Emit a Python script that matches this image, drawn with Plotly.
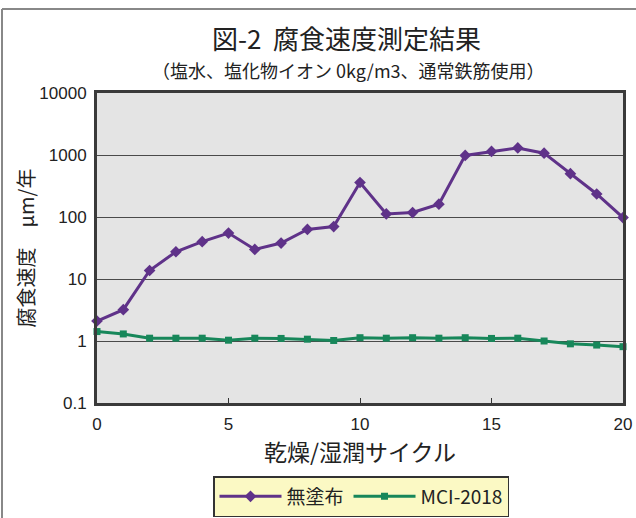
import plotly.graph_objects as go

cycles = list(range(21))
mutofu = [2.1, 3.2, 13.7, 27.5, 40, 55, 30, 38, 63, 70, 360, 112, 118, 161,
          985, 1140, 1300, 1070, 500, 235, 98]
mci2018 = [1.42, 1.30, 1.11, 1.11, 1.11, 1.03, 1.11, 1.10, 1.07, 1.02, 1.13,
           1.11, 1.13, 1.11, 1.13, 1.10, 1.11, 1.00, 0.90, 0.86, 0.81]
series_names = ["無塗布", "MCI-2018"]
y_ticks = [0.1, 1, 10, 100, 1000, 10000]
y_tick_labels = ["0.1", "1", "10", "100", "1000", "10000"]
x_ticks = [0, 5, 10, 15, 20]

W, H = 636, 518
ML, MR, MT, MB = 97, 13, 93, 115
PW, PH = W - ML - MR, H - MT - MB

JP = "Noto Sans CJK JP"
NUM = "Liberation Sans"

fig = go.Figure()
fig.add_trace(go.Scatter(
    x=cycles, y=mutofu, name=series_names[0], mode="lines+markers",
    line=dict(color="#5f3289", width=3),
    marker=dict(symbol="diamond", size=9, color="#5f3289"),
    cliponaxis=False))
fig.add_trace(go.Scatter(
    x=cycles, y=mci2018, name=series_names[1], mode="lines+markers",
    line=dict(color="#17875a", width=3),
    marker=dict(symbol="square", size=7, color="#17875a"),
    cliponaxis=False))

def px_x(p):
    return (p - ML) / PW

def px_y(p):
    return (H - MB - p) / PH

fig.update_layout(
    width=W, height=H,
    margin=dict(l=ML, r=MR, t=MT, b=MB, autoexpand=False),
    paper_bgcolor="white",
    plot_bgcolor="#e4e4e4",
    showlegend=True,
    legend=dict(
        orientation="h", x=px_x(361), xanchor="center", y=px_y(476), yanchor="top",
        bgcolor="#fbf9c4", bordercolor="#333333", borderwidth=1.5,
        font=dict(family=JP, size=19, color="#222222"),
        itemwidth=62, tracegroupgap=0,
    ),
    xaxis=dict(
        range=[0, 20], tickvals=x_ticks, ticks="inside", ticklen=5,
        tickcolor="#333333", showgrid=False, zeroline=False,
        showline=True, linecolor="#3a3a3a", linewidth=3, mirror=True,
        tickfont=dict(family=NUM, size=17, color="#222222"),
        ticklabelstandoff=4,
        title=dict(text="乾燥/湿潤サイクル", font=dict(family=JP, size=23, color="#222222"),
                   standoff=10),
    ),
    yaxis=dict(
        type="log", range=[-1, 4], tickvals=y_ticks, ticktext=y_tick_labels,
        ticks="", showgrid=True, gridcolor="#4a4a4a", gridwidth=1.3,
        zeroline=False, showline=True, linecolor="#3a3a3a", linewidth=3, mirror=True,
        tickfont=dict(family=NUM, size=17, color="#222222"),
        ticklabelstandoff=4,
        title=dict(text="腐食速度　μm/年", font=dict(family=JP, size=20, color="#222222"),
                   standoff=0),
    ),
    annotations=[
        dict(text="図-2  腐食速度測定結果", xref="paper", yref="paper",
             x=px_x(346), y=px_y(38), xanchor="center", yanchor="middle",
             showarrow=False, font=dict(family=JP, size=26, color="#222222")),
        dict(text="（塩水、塩化物イオン 0kg/m3、通常鉄筋使用）", xref="paper", yref="paper",
             x=px_x(348), y=px_y(70), xanchor="center", yanchor="middle",
             showarrow=False, font=dict(family=JP, size=18, color="#222222")),
    ],
    shapes=[
        dict(type="line", xref="paper", yref="paper", x0=px_x(2), x1=px_x(636),
             y0=px_y(9), y1=px_y(9), line=dict(color="#888888", width=2)),
        dict(type="line", xref="paper", yref="paper", x0=px_x(2), x1=px_x(2),
             y0=px_y(9), y1=px_y(518), line=dict(color="#888888", width=2)),
    ],
)

fig.write_html("out.html")
